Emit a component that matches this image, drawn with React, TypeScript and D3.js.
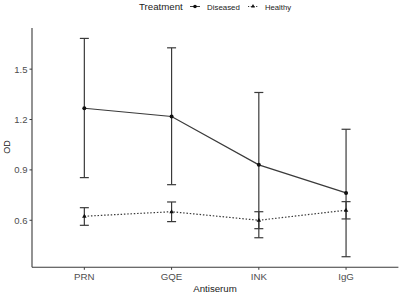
import React from "react";
import * as d3 from "d3";

const categories = ["PRN", "GQE", "INK", "IgG"];
const diseasedMean = [1.267, 1.218, 0.93, 0.763];
const diseasedLow = [0.854, 0.812, 0.496, 0.383];
const diseasedHigh = [1.683, 1.627, 1.361, 1.142];
const healthyMean = [0.624, 0.651, 0.6, 0.66];
const healthyLow = [0.57, 0.592, 0.55, 0.608];
const healthyHigh = [0.675, 0.709, 0.651, 0.711];
const yTicks = [0.6, 0.9, 1.2, 1.5];

const W = 400, H = 299;
const left = 32, right = 398.4, top = 28, bottom = 267.3;

export default function App() {
  const x = d3.scaleLinear().domain([0.4, 4.6]).range([left, right]);
  const y = d3.scaleLinear().domain([0.32, 1.745]).range([bottom, top]);
  const xc = (i: number) => x(i + 1);
  const line = d3.line<number>().x((_, i) => xc(i)).y((d) => y(d));
  const ink = "#3a3a3a";
  const font = "'Liberation Sans', Arial, sans-serif";
  const cap = 4.5;
  const tri = (cx: number, cy: number, s: number) =>
    `M${cx},${cy - s}L${cx + s * 0.9},${cy + s * 0.6}L${cx - s * 0.9},${cy + s * 0.6}Z`;

  const errBars = (lo: number[], hi: number[], key: string) =>
    lo.map((l, i) => (
      <g key={key + i} stroke={ink} strokeWidth={1.2}>
        <line x1={xc(i)} x2={xc(i)} y1={y(l)} y2={y(hi[i])} />
        <line x1={xc(i) - cap} x2={xc(i) + cap} y1={y(l)} y2={y(l)} />
        <line x1={xc(i) - cap} x2={xc(i) + cap} y1={y(hi[i])} y2={y(hi[i])} />
      </g>
    ));

  return (
    <svg width={W} height={H} style={{ position: "absolute", left: 0, top: 0, background: "#fff" }} fontFamily={font}>
      <rect width={W} height={H} fill="#fff" />
      {/* legend */}
      <text x={139} y={10} fontSize={9.7} fill="#222">Treatment</text>
      <line x1={190} x2={200} y1={6.5} y2={6.5} stroke={ink} strokeWidth={1} />
      <circle cx={195} cy={6.5} r={1.8} fill="#111" />
      <text x={207} y={9.5} fontSize={7.9} fill="#222">Diseased</text>
      <line x1={248} x2={258} y1={6.5} y2={6.5} stroke={ink} strokeWidth={1} strokeDasharray="1.2,1.5" />
      <path d={tri(253, 6.3, 2.2)} fill="#111" />
      <text x={265} y={9.5} fontSize={7.7} fill="#222">Healthy</text>

      {/* axes */}
      <line x1={left} x2={left} y1={top} y2={bottom} stroke={ink} strokeWidth={1.1} />
      <line x1={left} x2={right} y1={bottom} y2={bottom} stroke={ink} strokeWidth={1.1} />
      {yTicks.map((t) => (
        <g key={t}>
          <line x1={left - 2.5} x2={left} y1={y(t)} y2={y(t)} stroke={ink} />
          <text x={left - 4.5} y={y(t) + 3.4} fontSize={9.5} textAnchor="end" fill="#4d4d4d">{t.toFixed(1)}</text>
        </g>
      ))}
      {categories.map((c, i) => (
        <g key={c}>
          <line x1={xc(i)} x2={xc(i)} y1={bottom} y2={bottom + 2.5} stroke={ink} />
          <text x={xc(i)} y={279.5} fontSize={9.7} textAnchor="middle" fill="#4d4d4d">{c}</text>
        </g>
      ))}
      <text x={215} y={291.5} fontSize={9.7} textAnchor="middle" fill="#222">Antiserum</text>
      <text transform={`translate(9.5,147) rotate(-90)`} fontSize={9} textAnchor="middle" fill="#222">OD</text>

      {/* error bars */}
      {errBars(diseasedLow, diseasedHigh, "d")}
      {errBars(healthyLow, healthyHigh, "h")}

      {/* lines */}
      <path d={line(diseasedMean) || ""} fill="none" stroke={ink} strokeWidth={1.2} />
      <path d={line(healthyMean) || ""} fill="none" stroke={ink} strokeWidth={1.2} strokeDasharray="1.5,1.8" />

      {/* points */}
      {diseasedMean.map((v, i) => (
        <circle key={"dp" + i} cx={xc(i)} cy={y(v)} r={2} fill="#111" />
      ))}
      {healthyMean.map((v, i) => (
        <path key={"hp" + i} d={tri(xc(i), y(v), 2.5)} fill="#111" />
      ))}
    </svg>
  );
}
